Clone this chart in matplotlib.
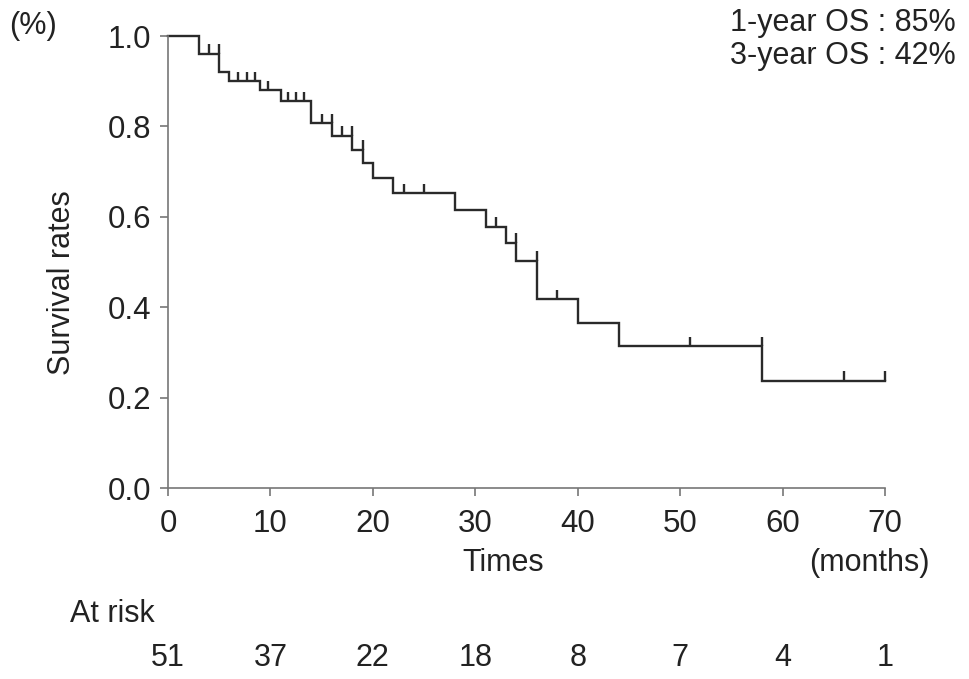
import matplotlib
matplotlib.use("Agg")
import matplotlib.pyplot as plt
import numpy as np

plt.rcParams['font.family'] = ['Liberation Sans', 'DejaVu Sans']

# Kaplan-Meier step data (months, survival)
step_times = [0, 3, 5, 6, 9, 11, 14, 16, 18, 19, 20, 22, 28, 31, 33, 34, 36, 40, 44, 58]
step_surv = [1.0, 0.961, 0.921, 0.900, 0.880, 0.856, 0.807, 0.779, 0.748, 0.718,
             0.685, 0.652, 0.615, 0.578, 0.543, 0.503, 0.418, 0.366, 0.314, 0.237]
end_time = 70
censor_times = [4, 5, 6.8, 7.7, 8.5, 9.8, 11.7, 12.5, 13.3, 15, 16, 17, 18, 19,
                23, 25, 32, 34, 36, 38, 51, 58, 66, 70]

risk_times = [0, 10, 20, 30, 40, 50, 60, 70]
risk_counts = [51, 37, 22, 18, 8, 7, 4, 1]

x_ticks = [0, 10, 20, 30, 40, 50, 60, 70]
y_ticks = [0.0, 0.2, 0.4, 0.6, 0.8, 1.0]

W, H = 969, 679
FS = 22
TC = '#222222'
fig = plt.figure(figsize=(W / 100, H / 100), dpi=100)
ax = fig.add_axes([168 / W, 1 - 488 / H, (885 - 168) / W, (488 - 36) / H])

line_color = '#2a2a2a'
xs = step_times + [end_time]
ys = step_surv + [step_surv[-1]]
ax.step(xs, ys, where='post', color=line_color, lw=1.7, solid_joinstyle='miter')


def surv_at(t):
    idx = np.searchsorted(step_times, t, side='left') - 1
    idx = max(idx, 0)
    return step_surv[idx]


cy = [surv_at(t) for t in censor_times]
ax.vlines(censor_times, cy, np.array(cy) + 0.021, color=line_color, lw=1.7)

ax.set_xlim(0, 70)
ax.set_ylim(0, 1.0)
ax.set_xticks(x_ticks)
ax.set_yticks(y_ticks)
ax.set_yticklabels([f"{v:.1f}" for v in y_ticks])
for s in ['top', 'right']:
    ax.spines[s].set_visible(False)
for s in ['left', 'bottom']:
    ax.spines[s].set_color('#777777')
    ax.spines[s].set_linewidth(1.2)
ax.tick_params(direction='out', length=6, width=1.2, color='#777777',
               labelsize=22.5, labelcolor=TC)
ax.tick_params(axis='x', pad=9)
ax.tick_params(axis='y', pad=6)
for c in ax.get_children():
    try:
        c.set_clip_on(False)
    except Exception:
        pass

fig.text(62 / W, 1 - 283 / H, 'Survival rates', rotation=90, ha='center', va='center',
         fontsize=FS, color=TC)
fig.text(9 / W, 1 - 26 / H, '(%)', ha='left', va='center', fontsize=FS, color=TC)
fig.text(503 / W, 1 - 563 / H, 'Times', ha='center', va='center', fontsize=FS, color=TC)
fig.text(930 / W, 1 - 563 / H, '(months)', ha='right', va='center', fontsize=FS, color=TC)
fig.text(956 / W, 1 - 23 / H, '1-year OS : 85%', ha='right', va='center', fontsize=FS, color=TC)
fig.text(956 / W, 1 - 56 / H, '3-year OS : 42%', ha='right', va='center', fontsize=FS, color=TC)
fig.text(70 / W, 1 - 614 / H, 'At risk', ha='left', va='center', fontsize=FS, color=TC)

for t, n in zip(risk_times, risk_counts):
    xpix = ax.transData.transform((t, 0))[0]
    fig.text(xpix / W, 1 - 658 / H, str(n), ha='center', va='center', fontsize=FS, color=TC)

fig.savefig('out.png', dpi=100, facecolor='white')
